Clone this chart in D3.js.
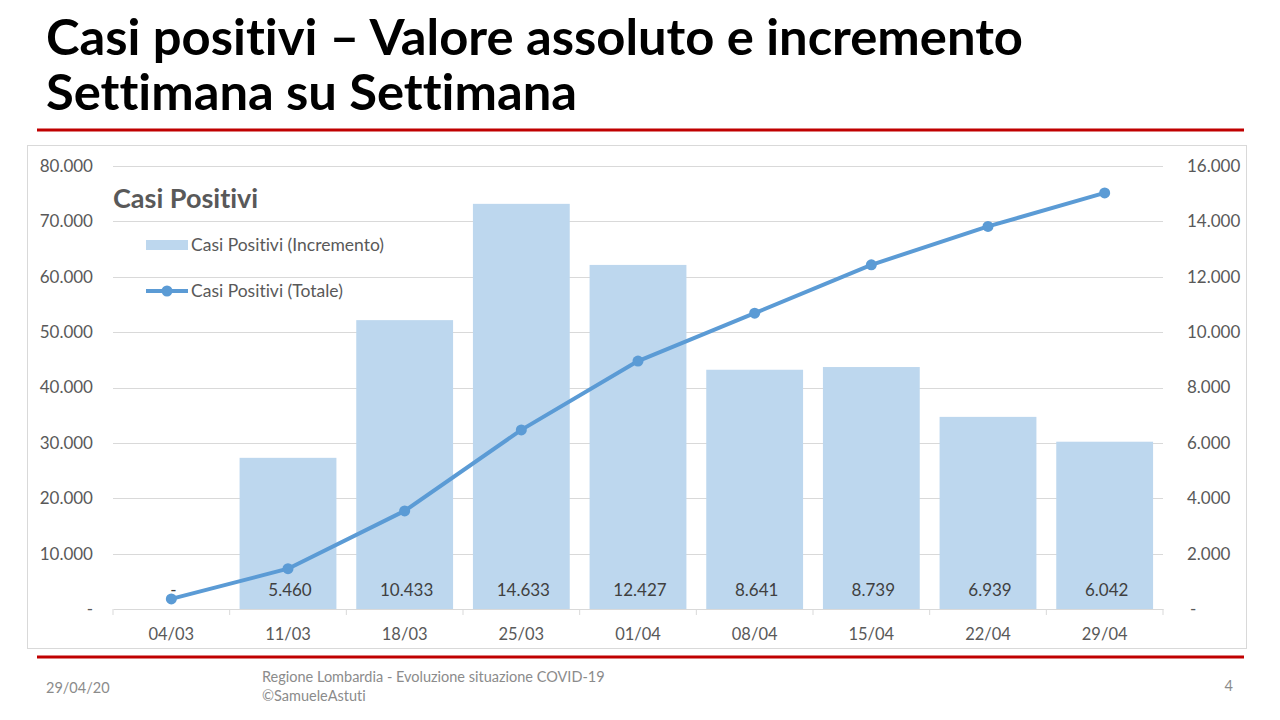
<!DOCTYPE html>
<html>
<head>
<meta charset="utf-8">
<script src="https://cdn.jsdelivr.net/npm/d3@7"></script>
<style>
  body { margin: 0; background: #fff; }
  svg { display: block; }
  text { font-variant-ligatures: none; font-feature-settings: "liga" 0, "clig" 0; }
</style>
</head>
<body>
<svg id="chart" width="1280" height="720"></svg>
<script>
// data
const dates = ["04/03", "11/03", "18/03", "25/03", "01/04", "08/04", "15/04", "22/04", "29/04"];
const totale = [1820, 7280, 17713, 32346, 44773, 53414, 62153, 69092, 75134];
const incremento = [0, 5460, 10433, 14633, 12427, 8641, 8739, 6939, 6042];
const leftTicks = [0, 10000, 20000, 30000, 40000, 50000, 60000, 70000, 80000];
const rightTicks = [0, 2000, 4000, 6000, 8000, 10000, 12000, 14000, 16000];

const locale = d3.formatLocale({ decimal: ",", thousands: ".", grouping: [3], currency: ["", "€"] });
const fmt = v => v == 0 ? "-" : locale.format(",")(v);

const font = "Lato, Carlito, 'Open Sans', sans-serif";
const blue = "#5b9bd5", barBlue = "#bdd7ee", grey = "#595959", red = "#c00000";

let svg = d3.select("#chart");

// title
svg.append("text").attr("x", 46).attr("y", 55)
    .attr("textLength", 977).attr("lengthAdjust", "spacingAndGlyphs")
    .style("font-family", font).style("font-weight", 700).style("font-size", "49px")
    .text("Casi positivi – Valore assoluto e incremento");
svg.append("text").attr("x", 46).attr("y", 110)
    .attr("textLength", 531).attr("lengthAdjust", "spacingAndGlyphs")
    .style("font-family", font).style("font-weight", 700).style("font-size", "49px")
    .text("Settimana su Settimana");

// red rules
svg.append("line").attr("x1", 37).attr("x2", 1244).attr("y1", 130).attr("y2", 130)
    .style("stroke", red).style("stroke-width", 3);
svg.append("line").attr("x1", 37).attr("x2", 1244).attr("y1", 657).attr("y2", 657)
    .style("stroke", red).style("stroke-width", 3);

// chart frame
svg.append("rect").attr("x", 27.5).attr("y", 145.5).attr("width", 1219).attr("height", 503)
    .style("fill", "none").style("stroke", "#d9d9d9").style("stroke-width", 1);

let x = d3.scaleBand().domain(dates).range([113, 1163]).paddingInner(0.17).paddingOuter(0.085);
let xb = d3.scaleBand().domain(dates).range([113, 1163]);
let yL = d3.scaleLinear().domain([0, 80000]).range([609, 166]);
let yR = d3.scaleLinear().domain([0, 16000]).range([609, 166]);

// gridlines
svg.append("g").selectAll("line").data(leftTicks.slice(1)).enter().append("line")
    .attr("x1", 113).attr("x2", 1163)
    .attr("y1", d => Math.round(yL(d)) + 0.5).attr("y2", d => Math.round(yL(d)) + 0.5)
    .style("stroke", "#d9d9d9").style("stroke-width", 1);

// left axis labels
svg.append("g").selectAll("text").data(leftTicks).enter().append("text")
    .attr("x", 93).attr("y", d => yL(d)).attr("dy", "0.35em")
    .attr("text-anchor", "end")
    .style("font-family", font).style("font-size", "17px").style("fill", grey)
    .text(d => fmt(d));

// right axis labels
svg.append("g").selectAll("text").data(rightTicks).enter().append("text")
    .attr("x", d => d == 0 ? 1190 : 1187).attr("y", d => yR(d)).attr("dy", "0.35em")
    .style("font-family", font).style("font-size", "17px").style("fill", grey)
    .text(d => fmt(d));

// bars
svg.append("g").selectAll("rect").data(dates).enter().append("rect")
    .attr("x", d => x(d))
    .attr("width", x.bandwidth())
    .attr("y", (d, i) => yR(incremento[i]))
    .attr("height", (d, i) => yR(0) - yR(incremento[i]))
    .style("fill", barBlue);

// x axis
let xAxis = svg.append("g").attr("transform", "translate(0,609)")
    .call(d3.axisBottom(xb).tickSize(0).tickFormat(""));
xAxis.select(".domain").attr("stroke", "#d9d9d9");
xAxis.selectAll(".tick").remove();
xAxis.selectAll("line.sep").data(d3.range(dates.length + 1)).enter().append("line")
    .attr("class", "sep")
    .attr("x1", i => 113 + i * xb.step()).attr("x2", i => 113 + i * xb.step())
    .attr("y1", 0).attr("y2", 6)
    .style("stroke", "#d9d9d9");
svg.append("g").selectAll("text").data(dates).enter().append("text")
    .attr("x", d => xb(d) + xb.bandwidth() / 2).attr("y", 640)
    .attr("text-anchor", "middle")
    .style("font-family", font).style("font-size", "16.5px").style("fill", grey)
    .text(d => d);

// bar value labels
svg.append("g").selectAll("text").data(dates).enter().append("text")
    .attr("x", d => xb(d) + xb.bandwidth() / 2 + 2).attr("y", 596)
    .attr("text-anchor", "middle")
    .style("font-family", font).style("font-size", "17px").style("fill", "#404040")
    .text((d, i) => fmt(incremento[i]));

// line
let line = d3.line().x((d, i) => xb(dates[i]) + xb.bandwidth() / 2).y(d => yL(d));
svg.append("path").datum(totale).attr("d", line)
    .style("fill", "none").style("stroke", blue).style("stroke-width", 4)
    .style("stroke-linejoin", "round");
svg.append("g").selectAll("circle").data(totale).enter().append("circle")
    .attr("cx", (d, i) => xb(dates[i]) + xb.bandwidth() / 2)
    .attr("cy", d => yL(d)).attr("r", 5.5)
    .style("fill", blue);

// legend
svg.append("text").attr("x", 113).attr("y", 208)
    .style("font-family", font).style("font-weight", 700).style("font-size", "27px").style("fill", grey)
    .text("Casi Positivi");
svg.append("rect").attr("x", 146).attr("y", 240).attr("width", 42).attr("height", 10)
    .style("fill", barBlue);
svg.append("text").attr("x", 191).attr("y", 245).attr("dy", "0.35em")
    .style("font-family", font).style("font-size", "17.5px").style("fill", grey)
    .text("Casi Positivi (Incremento)");
svg.append("line").attr("x1", 146).attr("x2", 188).attr("y1", 291).attr("y2", 291)
    .style("stroke", blue).style("stroke-width", 4);
svg.append("circle").attr("cx", 167).attr("cy", 291).attr("r", 5.5).style("fill", blue);
svg.append("text").attr("x", 191).attr("y", 291).attr("dy", "0.35em")
    .style("font-family", font).style("font-size", "17.5px").style("fill", grey)
    .text("Casi Positivi (Totale)");

// footer
svg.append("text").attr("x", 46).attr("y", 693)
    .style("font-family", font).style("font-size", "14.5px").style("fill", "#8b8b8b")
    .text("29/04/20");
svg.append("text").attr("x", 262).attr("y", 682)
    .style("font-family", font).style("font-size", "14.5px").style("fill", "#8b8b8b")
    .text("Regione Lombardia - Evoluzione situazione COVID-19");
svg.append("text").attr("x", 262).attr("y", 701)
    .style("font-family", font).style("font-size", "14.5px").style("fill", "#8b8b8b")
    .text("©SamueleAstuti");
svg.append("text").attr("x", 1233).attr("y", 691).attr("text-anchor", "end")
    .style("font-family", font).style("font-size", "14.5px").style("fill", "#8b8b8b")
    .text("4");
</script>
</body>
</html>
